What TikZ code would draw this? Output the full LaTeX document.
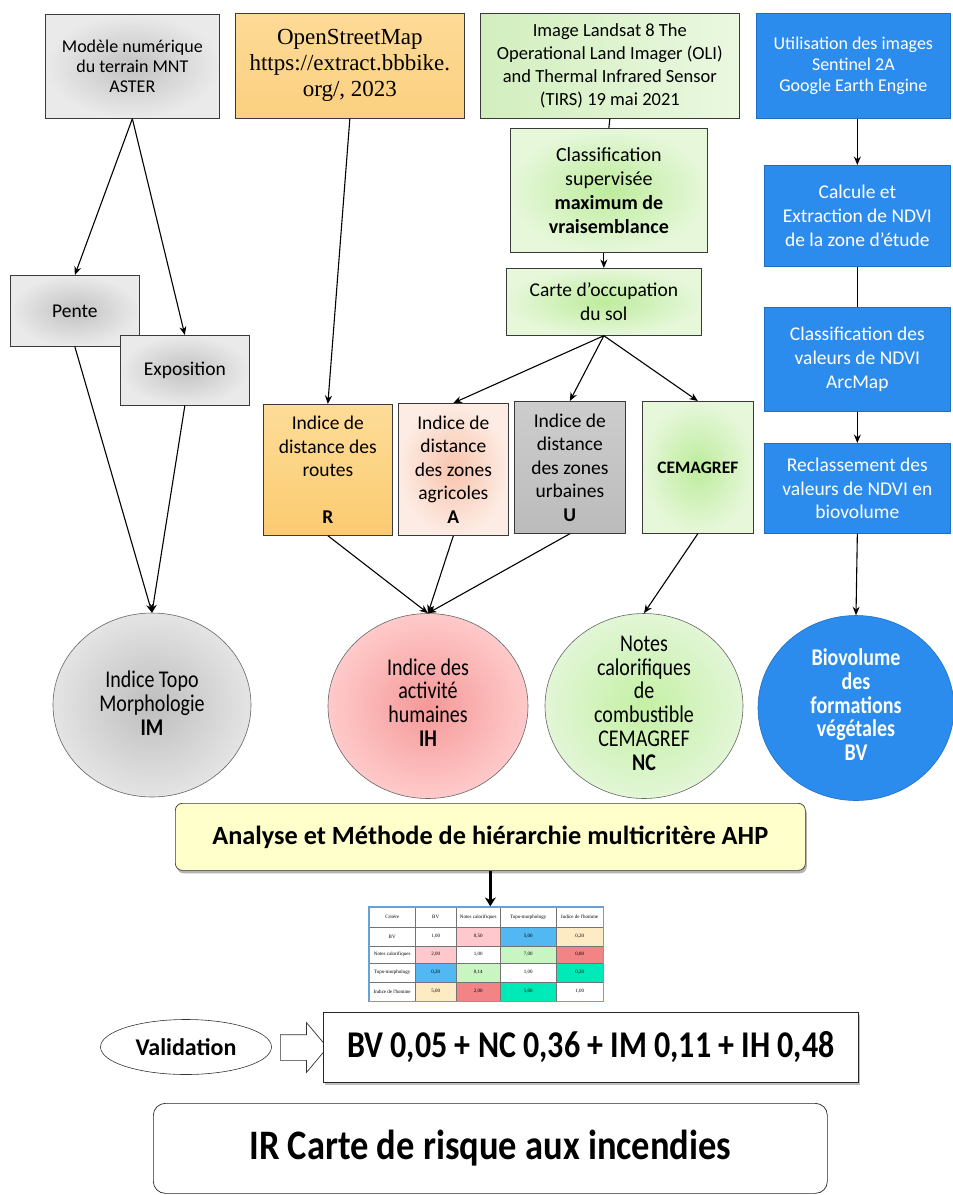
\documentclass[tikz,border=0pt]{standalone}
\usepackage{fontspec}
\usepackage{graphicx}
\setmainfont{Carlito}
\newfontfamily\serifosm{Liberation Serif}
\usetikzlibrary{shapes.geometric,shapes.arrows,arrows.meta,shadows,fit}

\definecolor{edge}{HTML}{3A3A3A}
\definecolor{grayin}{HTML}{C2C2C2}
\definecolor{grayout}{HTML}{EAEAEA}
\definecolor{osmtop}{HTML}{FDDA96}
\definecolor{osmbot}{HTML}{FBD080}
\definecolor{rtop}{HTML}{FDDC98}
\definecolor{rbot}{HTML}{FBCB70}
\definecolor{agin}{HTML}{F8C4AC}
\definecolor{agout}{HTML}{FDECE4}
\definecolor{utop}{HTML}{CDCDCD}
\definecolor{ubot}{HTML}{BBBBBB}
\definecolor{grin}{HTML}{BDEC9C}
\definecolor{grout}{HTML}{E6F7DA}
\definecolor{lsleft}{HTML}{D2EEBE}
\definecolor{lsright}{HTML}{EAF8E0}
\definecolor{blueb}{HTML}{2B8CEE}
\definecolor{blueedge}{HTML}{1F6FC4}
\definecolor{imin}{HTML}{BEBEBE}
\definecolor{imout}{HTML}{E4E4E4}
\definecolor{ihin}{HTML}{F59898}
\definecolor{ihout}{HTML}{FFCACA}
\definecolor{ncin}{HTML}{C4F0A4}
\definecolor{ncout}{HTML}{E2F6D6}
\definecolor{ahpfill}{HTML}{FFFFCC}
\definecolor{cpink}{HTML}{FFC8CC}
\definecolor{cblue}{HTML}{52B8F2}
\definecolor{ccream}{HTML}{FDEBC4}
\definecolor{cgreen}{HTML}{C8F5C2}
\definecolor{cred}{HTML}{F28486}
\definecolor{cteal}{HTML}{00EAB8}
\definecolor{tblue}{HTML}{6AA0D8}

\newcommand\vs[2][1.2]{\scalebox{1}[#1]{\begin{tabular}{@{}c@{}}#2\end{tabular}}}

\tikzset{
  box/.style={draw=edge, line width=0.7pt, align=center, inner sep=2pt, anchor=north west},
  bluebox/.style={box, fill=blueb, draw=blueedge, text=white},
  ell/.style={ellipse, draw=black!60, line width=0.6pt, inner sep=0pt},
  etext/.style={align=center, inner sep=0pt},
  arr/.style={-{Stealth[length=8.5pt,width=7pt]}, line width=1.1pt, black},
  plain/.style={line width=1.1pt, black},
  tcell/.style={draw=black!55, line width=0.4pt, anchor=north west, inner sep=0pt,
     font=\serifosm\fontsize{5}{6}\selectfont, align=center},
}

\newcommand\cell[7]{\node[tcell, minimum width={#4-#2}, minimum height={#5-#3}, fill=#6] (#1) at (#2,#3) {#7};}

\begin{document}
\begin{tikzpicture}[x=1pt,y=-1pt]
\useasboundingbox (0,0) rectangle (953,1195);
\fill[white] (0,0) rectangle (953,1195);

% ---------- top row ----------
\node[box, minimum width=174, minimum height=104, shading=radial, inner color=grayin, outer color=grayout,
      font=\fontsize{18}{20}\selectfont] (mnt) at (45,14) {Modèle numérique\\du terrain MNT\\ASTER};
\node[box, minimum width=229, minimum height=105, top color=osmtop, bottom color=osmbot,
      font=\serifosm\fontsize{23}{26}\selectfont] (osm) at (235,13) {OpenStreetMap\\https://extract.bbbike.\\org/, 2023};
\node[box, minimum width=259, minimum height=105, left color=lsleft, right color=lsright,
      font=\fontsize{18.5}{23}\selectfont] (landsat) at (480,13) {Image Landsat 8 The\\Operational Land Imager (OLI)\\and Thermal Infrared Sensor\\(TIRS) 19 mai 2021};
\node[bluebox, minimum width=194, minimum height=105,
      font=\fontsize{18}{21}\selectfont] (sentinel) at (756,13) {Utilisation des images\\Sentinel 2A\\Google Earth Engine};

% ---------- green column ----------
\node[box, minimum width=197, minimum height=124, shading=radial, inner color=grin, outer color=grout,
      font=\fontsize{20}{24}\selectfont] (class) at (510,128) {Classification\\supervisée\\\textbf{maximum de}\\\textbf{vraisemblance}};
\node[box, minimum width=195, minimum height=67, shading=radial, inner color=grin, outer color=grout,
      font=\fontsize{19.5}{24}\selectfont] (carte) at (506,268) {Carte d’occupation\\du sol};

% ---------- blue column ----------
\node[bluebox, minimum width=186, minimum height=101,
      font=\fontsize{19.5}{24}\selectfont] (calc) at (764,165) {Calcule et\\Extraction de NDVI\\de la zone d’étude};
\node[bluebox, minimum width=186, minimum height=104,
      font=\fontsize{19.5}{24}\selectfont] (ndvi) at (764,307) {Classification des\\valeurs de NDVI\\ArcMap};
\node[bluebox, minimum width=186, minimum height=90,
      font=\fontsize{19.5}{23.5}\selectfont] (recl) at (764,443) {Reclassement\ des\\valeurs de NDVI en\\biovolume};

% ---------- left column ----------
\node[box, minimum width=129, minimum height=71, shading=radial, inner color=grayin, outer color=grayout,
      font=\fontsize{19.5}{24}\selectfont] (pente) at (10,275) {Pente};
\node[box, minimum width=129, minimum height=70, shading=radial, inner color=grayin, outer color=grayout,
      font=\fontsize{19.5}{24}\selectfont] (expo) at (120,335) {Exposition};

% ---------- index boxes ----------
\node[box, minimum width=129, minimum height=131, top color=rtop, bottom color=rbot,
      font=\fontsize{19.5}{23.5}\selectfont] (routes) at (263,404) {Indice de\\distance des\\routes\\[23.5pt]\textbf{R}};
\node[box, minimum width=110, minimum height=132, shading=radial, inner color=agin, outer color=agout,
      font=\fontsize{19.5}{23.5}\selectfont] (agri) at (398,403) {Indice de\\distance\\des zones\\agricoles\\\textbf{A}};
\node[box, minimum width=111, minimum height=132, top color=utop, bottom color=ubot,
      font=\fontsize{19.5}{23.5}\selectfont] (urb) at (514,401) {Indice de\\distance\\des zones\\urbaines\\\textbf{U}};
\node[box, minimum width=111, minimum height=132, shading=radial, inner color=grin, outer color=grout,
      font=\bfseries\fontsize{17.5}{21}\selectfont] (cem) at (642,401) {CEMAGREF};

% ---------- ellipses ----------
\node[ell, minimum width=198, minimum height=184, shading=radial, inner color=imin, outer color=imout] (im) at (152,705) {};
\node[etext, font=\fontsize{20}{20}\selectfont] (imt) at ([yshift=-2pt]im.center) {\vs{Indice Topo\\Morphologie\\\textbf{IM}}};
\node[ell, minimum width=200, minimum height=185, shading=radial, inner color=ihin, outer color=ihout] (ih) at (428,706) {};
\node[etext, font=\fontsize{20}{19.7}\selectfont] (iht) at (ih.center) {\vs{Indice des\\activité\\humaines\\\textbf{IH}}};
\node[ell, minimum width=198, minimum height=185, shading=radial, inner color=ncin, outer color=ncout] (nc) at (644,706) {};
\node[etext, font=\fontsize{20}{19.7}\selectfont] (nct) at (nc.center) {\vs{Notes\\calorifiques\\de\\combustible\\CEMAGREF\\\textbf{NC}}};
\node[ell, minimum width=196, minimum height=185, fill=blueb, draw=blueedge] (bv) at (856,708) {};
\node[etext, text=white, font=\bfseries\fontsize{20}{19.7}\selectfont] (bvt) at (bv.center) {\vs{Biovolume\\des\\formations\\végétales\\BV}};

% ---------- AHP ----------
\node[box, minimum width=630, minimum height=67, fill=ahpfill, rounded corners=7pt,
      drop shadow={shadow xshift=1.5pt, shadow yshift=-3pt, opacity=0.6},
      font=\bfseries\fontsize{26.3}{30}\selectfont] (ahp) at (175,803) {Analyse et Méthode de hiérarchie multicritère AHP};

% ---------- table ----------
\cell{h0}{369}{907}{415}{927}{white}{Critère}
\cell{h1}{415}{907}{456}{927}{white}{BV}
\cell{h2}{456}{907}{500}{927}{white}{Notes calorifiques}
\cell{h3}{500}{907}{556}{927}{white}{Topo-morphology}
\cell{h4}{556}{907}{603}{927}{white}{Indice de l'homme}
\cell{a0}{369}{927}{415}{946}{white}{BV}
\cell{a1}{415}{927}{456}{946}{white}{1,00}
\cell{a2}{456}{927}{500}{946}{cpink}{0,50}
\cell{a3}{500}{927}{556}{946}{cblue}{5,00}
\cell{a4}{556}{927}{603}{946}{ccream}{0,20}
\cell{b0}{369}{946}{415}{963}{white}{Notes calorifiques}
\cell{b1}{415}{946}{456}{963}{cpink}{2,00}
\cell{b2}{456}{946}{500}{963}{white}{1,00}
\cell{b3}{500}{946}{556}{963}{cgreen}{7,00}
\cell{b4}{556}{946}{603}{963}{cred}{0,80}
\cell{c0}{369}{963}{415}{982}{white}{Topo-morphology}
\cell{c1}{415}{963}{456}{982}{cblue}{0,20}
\cell{c2}{456}{963}{500}{982}{cgreen}{0,14}
\cell{c3}{500}{963}{556}{982}{white}{1,00}
\cell{c4}{556}{963}{603}{982}{cteal}{0,20}
\cell{d0}{369}{982}{415}{1001}{white}{Indice de l'homme}
\cell{d1}{415}{982}{456}{1001}{ccream}{5,00}
\cell{d2}{456}{982}{500}{1001}{cred}{2,00}
\cell{d3}{500}{982}{556}{1001}{cteal}{5,00}
\cell{d4}{556}{982}{603}{1001}{white}{1,00}
\node[draw=tblue, line width=1.3pt, inner sep=0pt, fit=(h0)(d4)] (table) {};

% ---------- validation / formula ----------
\node[ell, draw=black!80, fill=white, minimum width=171, minimum height=55,
      font=\bfseries\fontsize{24}{26}\selectfont] (valid) at (186,1047) {Validation};
\node[single arrow, draw=black!80, fill=white, line width=0.7pt, minimum height=47,
      inner xsep=0pt, inner ysep=12.5pt, single arrow head extend=12pt, single arrow tip angle=100,
      single arrow head indent=0pt] (barrow) at (298.5,1047.5) {};
\node[box, fill=white, draw=black!85, minimum width=535, minimum height=70,
      drop shadow={shadow xshift=1.5pt, shadow yshift=-2.5pt, opacity=0.5},
      font=\bfseries\fontsize{32}{34}\selectfont] (formula) at (323,1012) {\scalebox{1}[1.18]{BV 0,05 + NC 0,36 + IM 0,11 + IH 0,48}};

% ---------- result ----------
\node[box, fill=white, draw=black!85, rounded corners=12pt, minimum width=674, minimum height=90,
      font=\bfseries\fontsize{36.5}{40}\selectfont] (ir) at (153,1103) {\scalebox{1}[1.15]{IR Carte de risque aux incendies}};

% ---------- connectors ----------
\draw[arr] (mnt.south) -- (pente.north);
\draw[arr] (mnt.south) -- (expo.north);
\draw[arr] (osm.south) -- (routes.north);
\draw[plain] (landsat.south) -- (class.north);
\draw[arr] (class.south -| carte.north) -- (carte.north);
\draw[arr] (carte.south) -- (agri.north);
\draw[arr] (carte.south) -- (urb.north);
\draw[arr] (carte.south) -- (cem.north);
\draw[arr] (sentinel.south -| calc.north) -- (calc.north);
\draw[plain] (calc.south) -- (ndvi.north);
\draw[arr] (ndvi.south) -- (recl.north);
\draw[arr] (recl.south) -- (bv.north);
\draw[arr] (pente.south) -- (im.north);
\draw[arr] (expo.south) -- (im.north);
\draw[arr] (routes.south) -- (ih.north);
\draw[arr] (agri.south) -- (ih.north);
\draw[arr] (urb.south) -- (ih.north);
\draw[arr] (cem.south) -- (nc.north);
\draw[-{Stealth[length=9pt,width=11pt]}, line width=3.2pt] (ahp.south) -- (ahp.south |- table.north);
\end{tikzpicture}
\end{document}
